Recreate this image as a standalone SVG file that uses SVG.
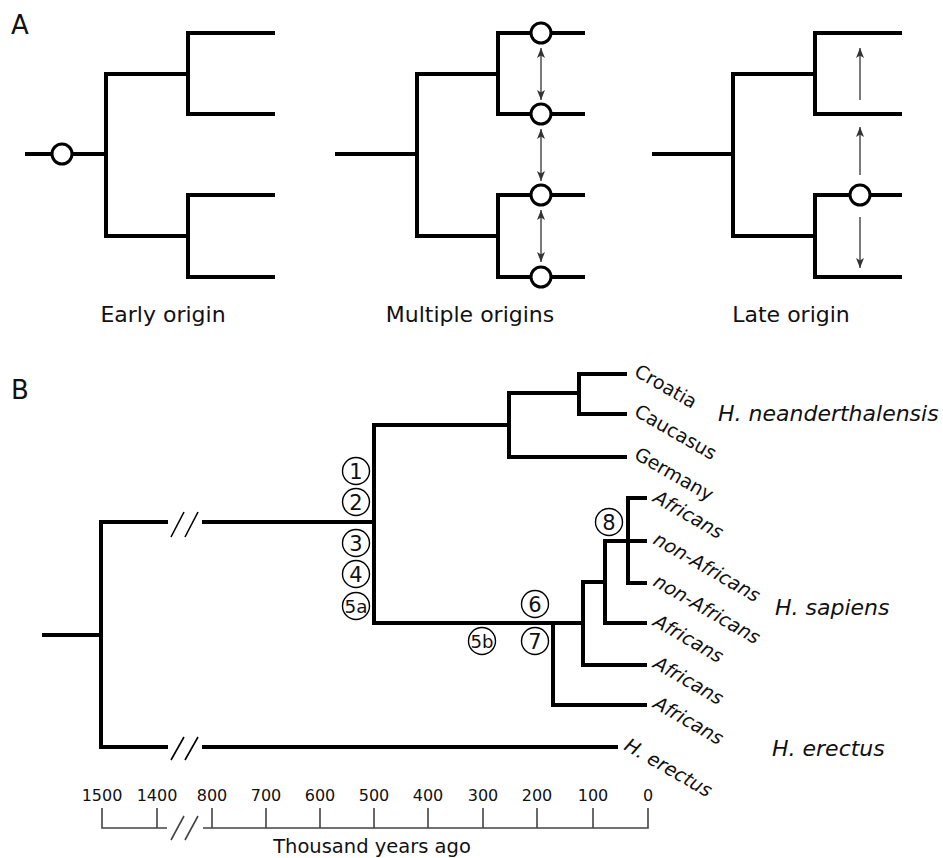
<svg xmlns="http://www.w3.org/2000/svg" width="943" height="858" viewBox="0 0 943 858">
<defs>
<style>
.br{fill:none;stroke:#000;stroke-width:4;stroke-linejoin:miter;stroke-linecap:butt}
.oc{fill:#fff;stroke:#000;stroke-width:3}
.ar{fill:none;stroke:#333;stroke-width:1.3}
.ax{fill:none;stroke:#444;stroke-width:1.6}
.sl{fill:none;stroke:#000;stroke-width:1.6}
.nc{fill:#fff;stroke:#000;stroke-width:1.4}
text{font-family:"DejaVu Sans","Liberation Sans",sans-serif;fill:#111}
.pl{font-size:26px}
.cap{font-size:22px;text-anchor:middle}
.lf{font-size:19px}
.it{font-style:italic}
.sp{font-size:22px;font-style:italic}
.tk{font-size:16px;text-anchor:middle}
.num{font-size:21px;text-anchor:middle}
.num2{font-size:18px;text-anchor:middle}
</style>
<marker id="ah" viewBox="0 0 10 8" refX="10" refY="4" markerWidth="10" markerHeight="8" orient="auto-start-reverse" markerUnits="userSpaceOnUse">
<path d="M0,0 L10,4 L0,8 L2.5,4 z" fill="#333"/>
</marker>
</defs>

<g id="connectors">
<!-- Panel A: early origin -->
<path class="br" d="M25,154 H106 M188,74 H106 V236 H188 M275,33 H188 V114 H275 M275,195 H188 V277 H275"/>
<!-- Panel A: multiple origins -->
<path class="br" d="M335,154 H417 M498,74 H417 V236 H498 M585,33 H498 V114 H585 M585,195 H498 V277 H585"/>
<path class="ar" d="M541,48 V100" marker-start="url(#ah)" marker-end="url(#ah)"/>
<path class="ar" d="M541,129 V181" marker-start="url(#ah)" marker-end="url(#ah)"/>
<path class="ar" d="M541,210 V262" marker-start="url(#ah)" marker-end="url(#ah)"/>
<!-- Panel A: late origin -->
<path class="br" d="M652,154 H733 M815,74 H733 V236 H815 M902,33 H815 V114 H902 M902,195 H815 V277 H902"/>
<path class="ar" d="M860,100 V48" marker-end="url(#ah)"/>
<path class="ar" d="M860,175 V127" marker-end="url(#ah)"/>
<path class="ar" d="M860,217 V268" marker-end="url(#ah)"/>
<!-- Panel B tree -->
<path class="br" d="M42,635 H101 M168,522 H101 V747 H168 M202,522 H374 M202,747 H618"/>
<path class="br" d="M509,425 H374 V623 H583"/>
<path class="br" d="M579,393 H509 V457 H627 M627,374 H579 V414 H627"/>
<path class="br" d="M553,623 V705 H647 M647,665 H583 V582 H605 M647,623 H605 V541 H647 M647,498 H628 V583 H647"/>
<!-- break marks -->
<path class="sl" d="M171,537 L184,512 M185,537 L198,512 M171,760 L184,737 M185,760 L198,737"/>
</g>

<g id="panel-labels">
<text id="label-A" class="pl" x="11" y="34">A</text>
<text id="label-B" class="pl" x="11" y="399">B</text>
</g>

<g id="origin-circles">
<circle class="oc" cx="62" cy="154" r="10"/>
<circle class="oc" cx="541" cy="33" r="10"/>
<circle class="oc" cx="541" cy="114" r="10"/>
<circle class="oc" cx="541" cy="195" r="10"/>
<circle class="oc" cx="541" cy="277" r="10"/>
<circle class="oc" cx="860" cy="195" r="10"/>
</g>

<g id="captions-A">
<text class="cap" x="163" y="322">Early origin</text>
<text class="cap" x="470" y="322">Multiple origins</text>
<text class="cap" x="791" y="322">Late origin</text>
</g>

<g id="event-markers">
<g id="ev1"><circle class="nc" cx="356" cy="471" r="13.5"/><text class="num" x="356" y="478.5">1</text></g>
<g id="ev2"><circle class="nc" cx="356" cy="502" r="13.5"/><text class="num" x="356" y="509.5">2</text></g>
<g id="ev3"><circle class="nc" cx="356" cy="543" r="13.5"/><text class="num" x="356" y="550.5">3</text></g>
<g id="ev4"><circle class="nc" cx="356" cy="574" r="13.5"/><text class="num" x="356" y="581.5">4</text></g>
<g id="ev5a"><circle class="nc" cx="356" cy="606" r="13.5"/><text class="num2" x="356" y="612.5" textLength="23" lengthAdjust="spacingAndGlyphs">5a</text></g>
<g id="ev5b"><circle class="nc" cx="482" cy="641" r="13.5"/><text class="num2" x="482" y="647.5" textLength="23" lengthAdjust="spacingAndGlyphs">5b</text></g>
<g id="ev6"><circle class="nc" cx="535" cy="604" r="13.5"/><text class="num" x="535" y="611.5">6</text></g>
<g id="ev7"><circle class="nc" cx="535" cy="641" r="13.5"/><text class="num" x="535" y="648.5">7</text></g>
<g id="ev8"><circle class="nc" cx="609" cy="522" r="13.5"/><text class="num" x="609" y="529.5">8</text></g>
</g>

<g id="leaf-labels">
<text id="leaf-croatia" class="lf" x="633" y="375" transform="rotate(30 633 375)">Croatia</text>
<text id="leaf-caucasus" class="lf" x="633" y="415" transform="rotate(30 633 415)">Caucasus</text>
<text id="leaf-germany" class="lf" x="633" y="458" transform="rotate(30 633 458)">Germany</text>
<text id="leaf-af1" class="lf it" x="652" y="501" transform="rotate(30 652 501)">Africans</text>
<text id="leaf-naf1" class="lf it" x="652" y="543" transform="rotate(30 652 543)">non-Africans</text>
<text id="leaf-naf2" class="lf it" x="652" y="585" transform="rotate(30 652 585)">non-Africans</text>
<text id="leaf-af2" class="lf it" x="652" y="625" transform="rotate(30 652 625)">Africans</text>
<text id="leaf-af3" class="lf it" x="652" y="667" transform="rotate(30 652 667)">Africans</text>
<text id="leaf-af4" class="lf it" x="652" y="707" transform="rotate(30 652 707)">Africans</text>
<text id="leaf-erectus" class="lf it" x="623" y="749" transform="rotate(30 623 749)">H. erectus</text>
</g>

<g id="species-labels">
<text id="sp-neand" class="sp" x="718" y="421">H. neanderthalensis</text>
<text id="sp-sapiens" class="sp" x="775" y="615">H. sapiens</text>
<text id="sp-erectus" class="sp" x="772" y="756">H. erectus</text>
</g>

<g id="time-axis">
<path class="ax" d="M102,808 V828 H167 M203,828 H648 V808 M157,808 V828 M212,808 V828 M266,808 V828 M320,808 V828 M374,808 V828 M428,808 V828 M483,808 V828 M537,808 V828 M593,808 V828"/>
<path class="ax" d="M171,840 L184,816 M185,840 L198,816"/>
<text class="tk" x="102" y="801">1500</text>
<text class="tk" x="157" y="801">1400</text>
<text class="tk" x="212" y="801">800</text>
<text class="tk" x="266" y="801">700</text>
<text class="tk" x="320" y="801">600</text>
<text class="tk" x="374" y="801">500</text>
<text class="tk" x="428" y="801">400</text>
<text class="tk" x="483" y="801">300</text>
<text class="tk" x="537" y="801">200</text>
<text class="tk" x="593" y="801">100</text>
<text class="tk" x="648" y="801">0</text>
<text id="axis-title" x="372" y="853" style="font-size:19.5px;text-anchor:middle">Thousand years ago</text>
</g>
</svg>
